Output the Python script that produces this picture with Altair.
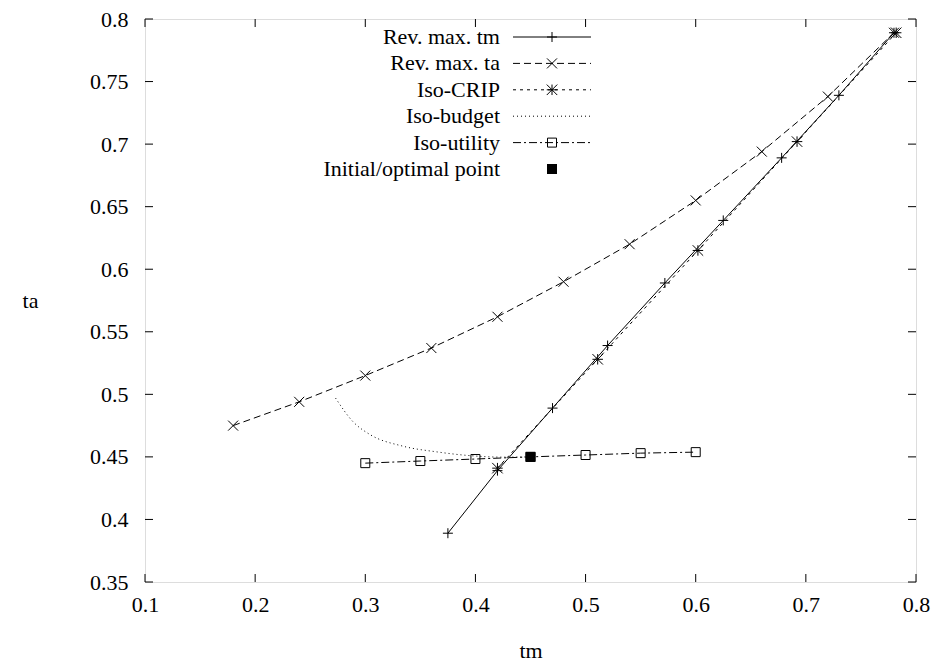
import altair as alt
import pandas as pd

# ---- data ----
rev_tm_x = [0.375, 0.42, 0.47, 0.52, 0.572, 0.625, 0.678, 0.73, 0.78]
rev_tm_y = [0.389, 0.439, 0.489, 0.539, 0.589, 0.639, 0.689, 0.739, 0.789]

rev_ta_x = [0.18, 0.24, 0.30, 0.36, 0.42, 0.48, 0.54, 0.60, 0.66, 0.72, 0.78]
rev_ta_y = [0.475, 0.494, 0.515, 0.537, 0.562, 0.590, 0.620, 0.655, 0.694, 0.738, 0.789]

crip_x = [0.42, 0.511, 0.602, 0.692, 0.782]
crip_y = [0.441, 0.528, 0.615, 0.702, 0.789]

budget_x = [0.273, 0.289, 0.304, 0.334, 0.365, 0.395, 0.425, 0.45]
budget_y = [0.497, 0.478, 0.468, 0.4586, 0.454, 0.451, 0.4498, 0.45]

util_x = [0.30, 0.35, 0.40, 0.45, 0.50, 0.55, 0.60]
util_y = [0.445, 0.4467, 0.4483, 0.45, 0.4515, 0.453, 0.4538]

opt_x = [0.45]
opt_y = [0.45]

legend_labels = ["Rev. max. tm", "Rev. max. ta", "Iso-CRIP", "Iso-budget",
                 "Iso-utility", "Initial/optimal point"]

x_ticks = [0.1, 0.2, 0.3, 0.4, 0.5, 0.6, 0.7, 0.8]
y_ticks = [0.35, 0.4, 0.45, 0.5, 0.55, 0.6, 0.65, 0.7, 0.75, 0.8]

# ---- styling ----
W, H = 771, 563
FONT = "Liberation Serif"
FS = 22
TICK = 8

PLUS = "M-1,0H1M0,-1V1"
CROSS = "M-1,-1L1,1M-1,1L1,-1"
STAR = "M-1,0H1M0,-1V1M-1,-1L1,1M-1,1L1,-1"
SQUARE = "M-1,-1H1V1H-1Z"

xs = alt.Scale(domain=[0.1, 0.8], nice=False, zero=False)
ys = alt.Scale(domain=[0.35, 0.8], nice=False, zero=False)

x_axis = alt.Axis(values=x_ticks, format="~g", ticks=False, tickSize=0, domain=False,
                  grid=False, labelFont=FONT, labelFontSize=FS, labelColor="black",
                  labelPadding=12, labelFlush=False, labelOverlap=False,
                  title="tm", titleFont=FONT, titleFontSize=FS, titleFontWeight="normal",
                  titleColor="black", titleY=68, titleBaseline="middle")
y_axis = alt.Axis(values=y_ticks, format="~g", ticks=False, tickSize=0, domain=False,
                  grid=False, labelFont=FONT, labelFontSize=FS, labelColor="black",
                  labelPadding=17, labelFlush=False, labelOverlap=False,
                  title="ta", titleFont=FONT, titleFontSize=FS, titleFontWeight="normal",
                  titleColor="black", titleAngle=0, titleX=-115, titleY=H / 2,
                  titleAlign="center", titleBaseline="middle")

X = alt.X("x:Q", scale=xs, axis=x_axis)
Y = alt.Y("y:Q", scale=ys, axis=y_axis)


def df(xv, yv):
    return pd.DataFrame({"x": xv, "y": yv})


def series(xv, yv, dash, shape, size, interp="linear"):
    d = df(xv, yv)
    line_kw = dict(color="black", strokeWidth=1, interpolate=interp)
    if dash:
        line_kw["strokeDash"] = dash
    layers = [alt.Chart(d).mark_line(**line_kw).encode(x=X, y=Y, order=alt.Order("x:Q"))]
    if shape:
        layers.append(alt.Chart(d).mark_point(shape=shape, size=size, filled=False,
                                              color="black", strokeWidth=1, opacity=1)
                      .encode(x=X, y=Y))
    return layers


layers = []
layers += series(rev_tm_x, rev_tm_y, None, PLUS, 100)
layers += series(rev_ta_x, rev_ta_y, [7, 4], CROSS, 100)
layers += series(crip_x, crip_y, [3, 4], STAR, 110)
layers += series(budget_x, budget_y, [1, 3], None, 0, "monotone")
layers += series(util_x, util_y, [8, 3, 2, 3], SQUARE, 81)
layers.append(alt.Chart(df(opt_x, opt_y)).mark_point(shape=SQUARE, size=100, filled=True,
                                                      color="black", opacity=1)
              .encode(x=X, y=Y))

# ---- inward ticks on all four sides ----
xt = pd.DataFrame({"x": x_ticks})
yt = pd.DataFrame({"y": y_ticks})
layers.append(alt.Chart(xt).mark_rule(color="black", strokeWidth=1)
              .encode(x=X, y=alt.value(H), y2=alt.value(H - TICK)))
layers.append(alt.Chart(xt).mark_rule(color="black", strokeWidth=1)
              .encode(x=X, y=alt.value(0), y2=alt.value(TICK)))
layers.append(alt.Chart(yt).mark_rule(color="black", strokeWidth=1)
              .encode(y=Y, x=alt.value(0), x2=alt.value(TICK)))
layers.append(alt.Chart(yt).mark_rule(color="black", strokeWidth=1)
              .encode(y=Y, x=alt.value(W - TICK), x2=alt.value(W)))

# ---- legend (top centre, labels to the left of samples) ----
leg_styles = [
    (None, PLUS, 100, False),
    ([7, 4], CROSS, 100, False),
    ([3, 4], STAR, 110, False),
    ([1, 3], None, 0, False),
    ([8, 3, 2, 3], SQUARE, 81, False),
    ("none", SQUARE, 100, True),
]
row0, step = 18, 26.4
text_right, s_x1, s_x2 = 355, 368, 446
s_mid = (s_x1 + s_x2) / 2
one = pd.DataFrame({"t": [0]})
for i, (lab, (dash, shape, size, filled)) in enumerate(zip(legend_labels, leg_styles)):
    yy = row0 + i * step
    layers.append(alt.Chart(pd.DataFrame({"t": [lab]}))
                  .mark_text(align="right", baseline="middle", font=FONT, fontSize=FS,
                             color="black")
                  .encode(text="t:N", x=alt.value(text_right), y=alt.value(yy)))
    if dash != "none":
        kw = dict(color="black", strokeWidth=1)
        if dash:
            kw["strokeDash"] = dash
        layers.append(alt.Chart(one).mark_rule(**kw)
                      .encode(x=alt.value(s_x1), x2=alt.value(s_x2), y=alt.value(yy)))
    if shape:
        layers.append(alt.Chart(one).mark_point(shape=shape, size=size, filled=filled,
                                                color="black", strokeWidth=1, opacity=1)
                      .encode(x=alt.value(s_mid), y=alt.value(yy)))

chart = (alt.layer(*layers)
         .properties(width=W, height=H,
                     autosize=alt.AutoSizeParams(type="none"),
                     padding={"left": 137, "top": 11, "right": 15, "bottom": 80})
         .configure_view(stroke="black", strokeWidth=1)
         .configure(background="white"))

chart.save("out.html", embed_options={"renderer": "svg", "actions": False})
